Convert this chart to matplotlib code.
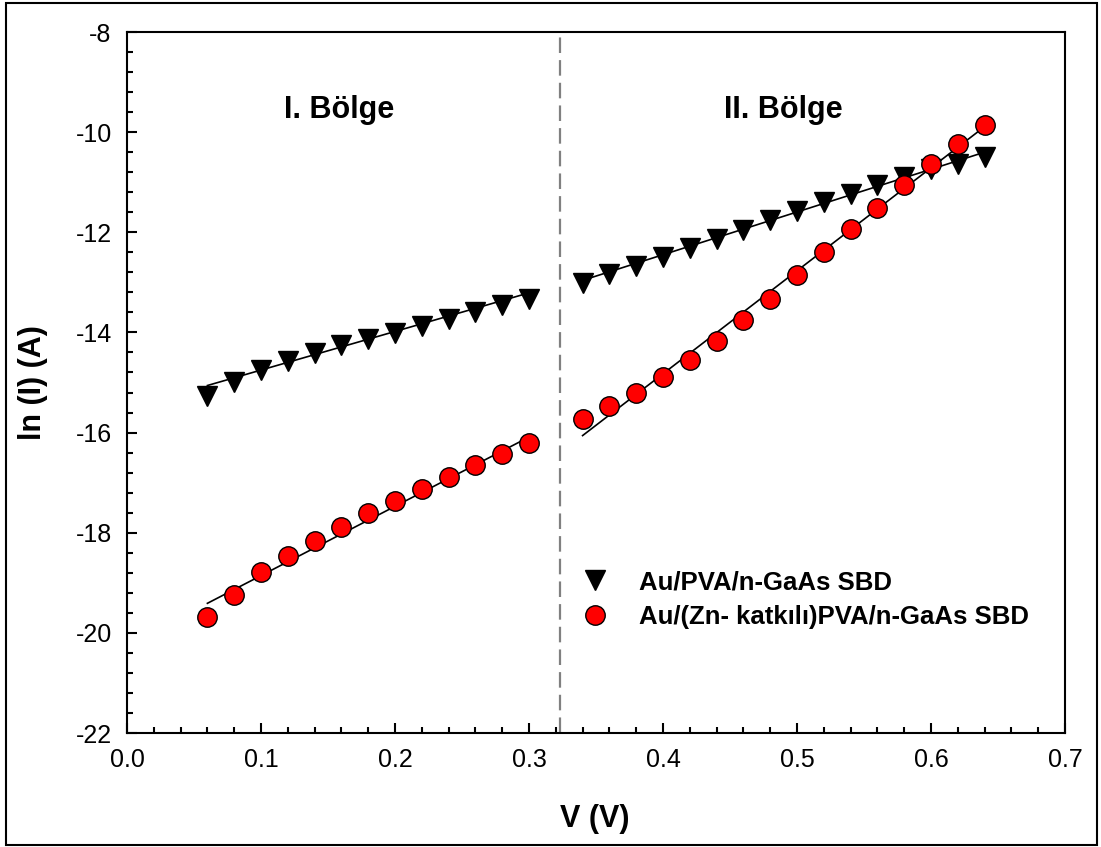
import numpy as np
import matplotlib
matplotlib.use("Agg")
import matplotlib.pyplot as plt
from matplotlib.ticker import MultipleLocator
from matplotlib.patches import Rectangle
from matplotlib.lines import Line2D

plt.rcParams['font.family'] = ['Liberation Sans', 'DejaVu Sans']

# ---------------- data ----------------
v_region1 = [0.06, 0.08, 0.10, 0.12, 0.14, 0.16, 0.18, 0.20, 0.22, 0.24, 0.26, 0.28, 0.30]
lnI_pva_r1 = [-15.26, -14.99, -14.76, -14.58, -14.41, -14.26, -14.13, -14.01, -13.88,
              -13.73, -13.59, -13.46, -13.33]
lnI_zn_r1 = [-19.69, -19.24, -18.78, -18.47, -18.16, -17.88, -17.61, -17.36, -17.13,
             -16.89, -16.65, -16.43, -16.21]

v_region2 = [0.34, 0.36, 0.38, 0.40, 0.42, 0.44, 0.46, 0.48, 0.50, 0.52, 0.54, 0.56,
             0.58, 0.60, 0.62, 0.64]
lnI_pva_r2 = [-13.01, -12.84, -12.67, -12.49, -12.31, -12.13, -11.95, -11.76, -11.58,
              -11.39, -11.23, -11.06, -10.89, -10.74, -10.63, -10.49]
lnI_zn_r2 = [-15.73, -15.47, -15.21, -14.89, -14.56, -14.18, -13.76, -13.33, -12.86,
             -12.39, -11.93, -11.51, -11.06, -10.63, -10.23, -9.85]

# linear fit lines (end points)
fit_v_r1 = [0.06, 0.30]
fit_pva_r1 = [-15.06, -13.21]
fit_zn_r1 = [-19.41, -16.09]
fit_v_r2 = [0.34, 0.64]
fit_pva_r2 = [-12.96, -10.40]
fit_zn_r2 = [-16.06, -9.89]

region_boundary = 0.323
region_labels = ['I. Bölge', 'II. Bölge']
region_label_x = [0.158, 0.490]
region_label_y = -9.72

series_labels = ['Au/PVA/n-GaAs SBD', 'Au/(Zn- katkılı)PVA/n-GaAs SBD']

xticks = [0.0, 0.1, 0.2, 0.3, 0.4, 0.5, 0.6, 0.7]
xticklabels = ['0.0', '0.1', '0.2', '0.3', '0.4', '0.5', '0.6', '0.7']
yticks = [-22, -20, -18, -16, -14, -12, -10, -8]
yticklabels = ['-22', '-20', '-18', '-16', '-14', '-12', '-10', '-8']

# ---------------- figure ----------------
W, H = 1101, 847
fig = plt.figure(figsize=(W / 100, H / 100), dpi=100)
ax = fig.add_axes([127 / W, (H - 733) / H, (1065 - 127) / W, (733 - 32) / H])

ax.set_xlim(0.0, 0.7)
ax.set_ylim(-22, -8)

# boundary line
ax.axvline(region_boundary, color='#808080', lw=1.6, dashes=(7, 3.2), zorder=1)

# fit lines
for xs, ys in [(fit_v_r1, fit_pva_r1), (fit_v_r1, fit_zn_r1),
               (fit_v_r2, fit_pva_r2), (fit_v_r2, fit_zn_r2)]:
    ax.plot(xs, ys, color='black', lw=1.2, zorder=2)

# markers
tri_kw = dict(marker='v', ms=14, color='black', mec='black', ls='none', zorder=3)
cir_kw = dict(marker='o', ms=14, mfc='#FF0000', mec='black', mew=1.0, ls='none', zorder=3)
ax.plot(v_region1, lnI_pva_r1, **tri_kw)
ax.plot(v_region2, lnI_pva_r2, **tri_kw)
ax.plot(v_region1, lnI_zn_r1, **cir_kw)
ax.plot(v_region2, lnI_zn_r2, **cir_kw)

# region labels
for lab, xx in zip(region_labels, region_label_x):
    ax.text(xx, region_label_y, lab, ha='center', va='baseline',
            fontsize=22, fontweight='bold')

# legend
handles = [Line2D([], [], **tri_kw), Line2D([], [], **cir_kw)]
leg = ax.legend(handles, series_labels, loc='upper left',
                bbox_to_anchor=((582 - 127) / 938, (733 - 570) / 701),
                frameon=False, borderpad=0, borderaxespad=0,
                handlelength=1.0, handletextpad=1.2, labelspacing=0.42,
                prop={'size': 18.5, 'weight': 'bold'})

# ticks
ax.set_xticks(xticks)
ax.set_xticklabels(xticklabels)
ax.set_yticks(yticks)
ax.set_yticklabels(yticklabels)
ax.xaxis.set_minor_locator(MultipleLocator(0.02))
ax.yaxis.set_minor_locator(MultipleLocator(0.4))
ax.tick_params(which='both', direction='in', top=False, right=False, width=1.5)
ax.tick_params(which='major', length=7, labelsize=18, pad=11)
ax.tick_params(which='minor', length=4.3)
for s in ax.spines.values():
    s.set_linewidth(1.5)

# axis labels
ax.set_xlabel('V (V)', fontsize=22, fontweight='bold', va='center')
ax.xaxis.set_label_coords((595 - 127) / 938, (733 - 819) / 701)
ax.set_ylabel('ln (I) (A)', fontsize=22, fontweight='bold', va='center')
ax.yaxis.set_label_coords((33 - 127) / 938, 0.5)

# outer frame
fig.add_artist(Rectangle((6 / W, (H - 845) / H), (1097 - 6) / W, (845 - 3) / H,
                         transform=fig.transFigure, fill=False, lw=1.5, color='black'))

fig.savefig('out.png', dpi=100)
